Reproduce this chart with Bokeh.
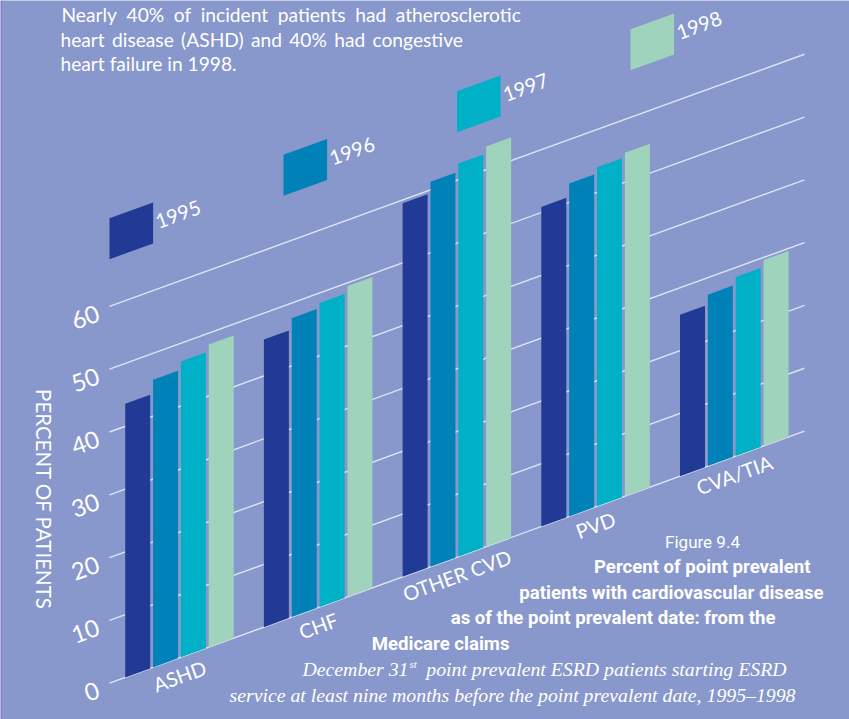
import math
from bokeh.core.properties import value
from bokeh.embed import file_html
from bokeh.models import Range1d
from bokeh.plotting import figure
from bokeh.resources import INLINE

# Percent of point prevalent patients, by condition and year
categories = ["ASHD", "CHF", "OTHER CVD", "PVD", "CVA/TIA"]
years = ["1995", "1996", "1997", "1998"]
pct_1995 = [43.6, 45.8, 59.5, 50.9, 25.7]
pct_1996 = [45.8, 47.6, 61.3, 53.0, 27.3]
pct_1997 = [47.1, 48.4, 62.6, 54.0, 28.5]
pct_1998 = [48.2, 49.5, 63.7, 54.7, 29.6]
series = [pct_1995, pct_1996, pct_1997, pct_1998]
y_ticks = [0, 10, 20, 30, 40, 50, 60]
y_axis_title = "PERCENT OF PATIENTS"

BG = "#8898cc"
COLORS = ["#213a96", "#0082b8", "#00b0c6", "#9fd3bb"]
WHITE = "#ffffff"
GRID = "#dfe4f2"

# Sheared plane: percent rises straight up, the baseline climbs to the right
X0, Y0 = 109.0, 682.7
X1 = 804.0
SLOPE = 0.3628
PX_PER_PCT = 6.28
ANGLE = math.atan(SLOPE)
GROUP_START = 124.7
GROUP_STEP = 138.7
BAR_STEP = 27.85
BAR_W = 25.0


def project(x, pct):
    return Y0 - SLOPE * (x - X0) - PX_PER_PCT * pct


p = figure(width=849, height=719, output_backend="svg", toolbar_location=None,
           x_range=Range1d(0, 849), y_range=Range1d(719, 0),
           background_fill_color=BG, border_fill_color=BG, min_border=0,
           outline_line_color=None)
p.axis.visible = False
p.grid.visible = False

# Thin darker strip down the page edge
p.quad(left=[0], right=[1.5], top=[0], bottom=[719], fill_color="#8a80c6", line_color=None)

# Gridlines
p.segment(x0=[X0] * len(y_ticks), x1=[X1] * len(y_ticks),
          y0=[project(X0, t) for t in y_ticks], y1=[project(X1, t) for t in y_ticks],
          line_color=GRID, line_width=1.4)

# Bars
for s, vals in enumerate(series):
    xs, ys = [], []
    for g, v in enumerate(vals):
        a = GROUP_START + GROUP_STEP * g + BAR_STEP * s
        b = a + BAR_W
        xs.append([a, b, b, a])
        ys.append([project(a, 0), project(b, 0), project(b, v), project(a, v)])
    p.patches(xs, ys, fill_color=COLORS[s], line_color=None)

HAND = value("Lato")
BODY = value("Lato")
CAPTION = value("Roboto")
SERIF = value("Liberation Serif")

# Tick labels
for t in y_ticks:
    p.text([98], [project(X0, t) + 6], text=[str(t)], angle=ANGLE, text_color=WHITE,
           text_font=HAND, text_font_size="24px", text_align="right", text_baseline="middle")

# Axis title
p.text([43], [499], text=[y_axis_title], angle=-math.pi / 2, text_color=WHITE,
       text_font=HAND, text_font_size="20.5px", text_align="center", text_baseline="middle")

# Category labels under each group
for g, c in enumerate(categories):
    cx = GROUP_START + GROUP_STEP * g + (3 * BAR_STEP + BAR_W) / 2
    p.text([cx], [project(cx, 0) + 18], text=[c], angle=ANGLE, text_color=WHITE,
           text_font=HAND, text_font_size="20px", text_align="center", text_baseline="middle")

# Year key: sheared swatches with labels
swatch_x = [109.0, 283.0, 456.5, 630.0]
swatch_y = [217.7, 154.3, 90.7, 28.7]
for i, yr in enumerate(years):
    x, y = swatch_x[i], swatch_y[i]
    w, h = 43.6, 41.0
    p.patch([x, x + w, x + w, x], [y, y - w * SLOPE, y - w * SLOPE + h, y + h],
            fill_color=COLORS[i], line_color=None)
    p.text([x + w + 25], [y - 3.7], text=[yr], angle=ANGLE, text_color=WHITE,
           text_font=HAND, text_font_size="20px", text_align="center", text_baseline="middle")

# Headline, with its first lines set wider to fill the measure
for (x, y, t) in [(61, 14, "Nearly\u200240%\u2002of\u2002incident\u2002patients\u2002had\u2002atherosclerotic"),
                  (60, 39, "heart \u2009disease \u2009(ASHD) \u2009and \u200940% \u2009had \u2009congestive"),
                  (60, 63, "heart failure in 1998.")]:
    p.text([x], [y], text=[t], text_color=WHITE, text_font=BODY, text_font_size="19.2px",
           text_align="left", text_baseline="middle")

# Figure caption
p.text([702], [541], text=["Figure 9.4"], text_color=WHITE, text_font=CAPTION, text_font_size="17px",
       text_align="center", text_baseline="middle")
for (x, y, t) in [(810, 566, "Percent of point prevalent"),
                  (823, 592, "patients with cardiovascular disease"),
                  (775, 617, "as of the point prevalent date: from the"),
                  (509, 643, "Medicare claims")]:
    p.text([x], [y], text=[t], text_color=WHITE, text_font=CAPTION, text_font_style="bold",
           text_font_size="18.6px", text_align="right", text_baseline="middle")

p.text([302], [668], text=["December 31"], text_color=WHITE, text_font=SERIF, text_font_style="italic",
       text_font_size="19.8px", text_align="left", text_baseline="middle")
p.text([409], [663], text=["st"], text_color=WHITE, text_font=SERIF, text_font_style="italic",
       text_font_size="11px", text_align="left", text_baseline="middle")
p.text([786], [668], text=["point prevalent ESRD patients starting ESRD"], text_color=WHITE, text_font=SERIF,
       text_font_style="italic", text_font_size="19.8px", text_align="right", text_baseline="middle")
p.text([795], [694], text=["service at least nine months before the point prevalent date, 1995\u20131998"],
       text_color=WHITE, text_font=SERIF, text_font_style="italic", text_font_size="19.8px",
       text_align="right", text_baseline="middle")

open("out.html", "w").write(file_html(p, INLINE))
